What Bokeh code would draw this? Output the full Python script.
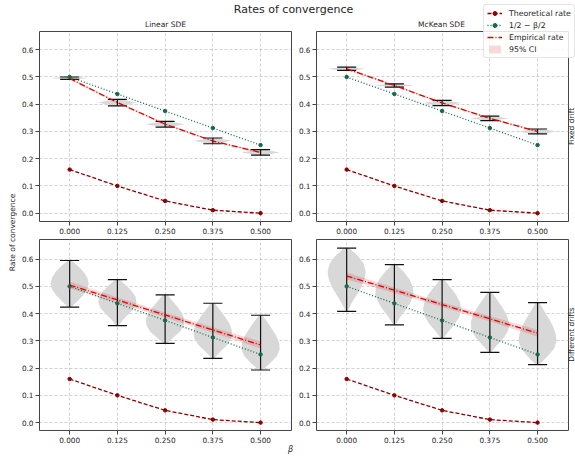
import numpy as np
from bokeh.plotting import figure
from bokeh.models import (Range1d, FixedTicker, PrintfTickFormatter, Label,
                          Legend, LegendItem, GridBox, Column)
from bokeh.embed import file_html
from bokeh.resources import INLINE

# ---------------- data ----------------
beta = [0.0, 0.125, 0.25, 0.375, 0.5]
rate_ticks = [0.0, 0.1, 0.2, 0.3, 0.4, 0.5, 0.6]
theoretical = [0.160, 0.100, 0.045, 0.011, 0.000]
half_rule = [0.5, 0.4375, 0.375, 0.3125, 0.25]

emp_linear_fixed = [0.495, 0.406, 0.327, 0.265, 0.223]
emp_mckean_fixed = [0.530, 0.469, 0.405, 0.348, 0.300]
emp_linear_diff = [0.505, 0.450, 0.395, 0.340, 0.285]
emp_mckean_diff = [0.538, 0.486, 0.433, 0.381, 0.328]

ci_fixed = [0.004, 0.003, 0.003, 0.003, 0.004]
ci_diff = [0.013, 0.010, 0.009, 0.010, 0.013]

lin_fixed_min = [0.491, 0.394, 0.316, 0.255, 0.213]
lin_fixed_max = [0.500, 0.418, 0.337, 0.276, 0.233]
mck_fixed_min = [0.524, 0.463, 0.395, 0.340, 0.291]
mck_fixed_max = [0.536, 0.475, 0.414, 0.356, 0.309]
lin_diff_min = [0.424, 0.356, 0.291, 0.236, 0.193]
lin_diff_max = [0.595, 0.525, 0.469, 0.438, 0.394]
mck_diff_min = [0.408, 0.359, 0.309, 0.258, 0.213]
mck_diff_max = [0.640, 0.580, 0.525, 0.478, 0.440]

# violin half-width profiles (fraction of max width), bottom -> top
prof_fixed = [[0.15, 0.6, 1.0, 0.6, 0.15]] * 5
prof_lin_diff = [
    [0.10, 0.40, 0.70, 0.92, 1.00, 0.93, 0.75, 0.45, 0.10],
    [0.08, 0.30, 0.60, 0.88, 1.00, 0.95, 0.75, 0.45, 0.10],
    [0.10, 0.45, 0.80, 0.98, 1.00, 0.88, 0.65, 0.38, 0.10],
    [0.06, 0.40, 0.78, 0.98, 1.00, 0.88, 0.65, 0.38, 0.10],
    [0.10, 0.50, 0.85, 1.00, 0.97, 0.82, 0.60, 0.35, 0.10],
]
prof_mck_diff = [
    [0.05, 0.25, 0.50, 0.75, 0.93, 1.00, 0.90, 0.60, 0.15],
    [0.06, 0.30, 0.60, 0.85, 1.00, 0.97, 0.80, 0.50, 0.10],
    [0.06, 0.35, 0.68, 0.92, 1.00, 0.92, 0.72, 0.42, 0.10],
    [0.06, 0.40, 0.75, 0.97, 1.00, 0.88, 0.65, 0.38, 0.10],
    [0.10, 0.50, 0.85, 1.00, 0.95, 0.80, 0.58, 0.33, 0.10],
]

# ---------------- style ----------------
FONT = "DejaVu Sans"
TXT = "#262626"
C_THEO = "#8b0000"
C_HALF = "#17694a"
C_EMP = "#e00000"
C_VIOL = "#d8d8d8"
VIOLIN_HALF = 0.05
CAP_HALF = 0.025


def panel(emp, ci, vmin, vmax, profiles, yr, left_col, top_row):
    p = figure(frame_width=252, frame_height=190 if top_row else 191,
               x_range=Range1d(-0.079, 0.581), y_range=Range1d(*yr),
               toolbar_location=None, output_backend="svg",
               min_border_left=39 if left_col else 20,
               min_border_right=4 if left_col else 8,
               min_border_top=31 if top_row else 2,
               min_border_bottom=16 if top_row else 28)
    p.outline_line_color = "#444444"
    p.outline_line_width = 1
    for ax, ticks, fmt in ((p.xaxis, beta, "%.3f"), (p.yaxis, rate_ticks, "%.1f")):
        ax.ticker = FixedTicker(ticks=ticks)
        ax.formatter = PrintfTickFormatter(format=fmt)
        ax.axis_line_color = None
        ax.major_tick_in = 0
        ax.major_tick_out = 4
        ax.major_tick_line_color = "#444444"
        ax.minor_tick_line_color = None
        ax.major_label_standoff = 2
        ax.major_label_text_font = FONT
        ax.major_label_text_font_size = "7.3px"
        ax.major_label_text_color = TXT
    for g in (p.xgrid, p.ygrid):
        g.grid_line_color = "#bdbdbd"
        g.grid_line_dash = "3 2"
        g.grid_line_width = 0.7

    # violins
    xs, ys = [], []
    for b, lo, hi, prof in zip(beta, vmin, vmax, profiles):
        prof = np.array(prof)
        lv = np.linspace(lo, hi, len(prof))
        xs.append(list(b + VIOLIN_HALF * prof) + list((b - VIOLIN_HALF * prof)[::-1]))
        ys.append(list(lv) + list(lv[::-1]))
    p.patches(xs, ys, fill_color=C_VIOL, line_color=None)

    # CI band
    p.varea(x=beta, y1=[e - c for e, c in zip(emp, ci)],
            y2=[e + c for e, c in zip(emp, ci)], fill_color=C_EMP, fill_alpha=0.15)

    # extrema bars
    bx0 = [b - CAP_HALF for b in beta]
    bx1 = [b + CAP_HALF for b in beta]
    p.segment(x0=beta, y0=vmin, x1=beta, y1=vmax, line_color="#111111", line_width=1.2)
    p.segment(x0=bx0, y0=vmin, x1=bx1, y1=vmin, line_color="#111111", line_width=1.2)
    p.segment(x0=bx0, y0=vmax, x1=bx1, y1=vmax, line_color="#111111", line_width=1.2)

    # lines
    p.line(beta, theoretical, line_color=C_THEO, line_dash="4 2", line_width=1.3)
    p.scatter(beta, theoretical, size=3.5, fill_color=C_THEO, line_color=C_THEO)
    p.line(beta, half_rule, line_color=C_HALF, line_dash="1 2", line_width=1.3)
    p.scatter(beta, half_rule, size=3.5, fill_color=C_HALF, line_color=C_HALF)
    p.line(beta, emp, line_color=C_EMP, line_dash="6 2 1 2", line_width=1.3)
    return p


yr_top = (-0.0305, 0.667)
yr_bot = (-0.029, 0.672)
tl = panel(emp_linear_fixed, ci_fixed, lin_fixed_min, lin_fixed_max, prof_fixed, yr_top, True, True)
tr = panel(emp_mckean_fixed, ci_fixed, mck_fixed_min, mck_fixed_max, prof_fixed, yr_top, False, True)
bl = panel(emp_linear_diff, ci_diff, lin_diff_min, lin_diff_max, prof_lin_diff, yr_bot, True, False)
br = panel(emp_mckean_diff, ci_diff, mck_diff_min, mck_diff_max, prof_mck_diff, yr_bot, False, False)

grid = GridBox(children=[(tl, 0, 0), (tr, 0, 1), (bl, 1, 0), (br, 1, 1)], spacing=0)

# ---------------- overlay for shared texts and legend ----------------
W, H = 575, 458
ov = figure(width=W, height=H, x_range=Range1d(0, W), y_range=Range1d(H, 0),
            toolbar_location=None, output_backend="svg", min_border=0,
            x_axis_type=None, y_axis_type=None)
ov.grid.visible = False
ov.outline_line_color = None
ov.background_fill_alpha = 0
ov.border_fill_alpha = 0
ov.styles = {"position": "absolute", "left": "0px", "top": "0px", "z-index": "10"}


def lab(x, y, text, size, angle=0.0, style="normal"):
    ov.add_layout(Label(x=x, y=y, text=text, text_font=FONT, text_font_size=size,
                        text_color=TXT, text_align="center", text_baseline="middle",
                        angle=angle, text_font_style=style))


lab(293, 9, "Rates of convergence", "11px")
lab(165, 24, "Linear SDE", "7.5px")
lab(441, 24, "McKean SDE", "7.5px")
lab(12, 232, "Rate of convergence", "7.5px", angle=np.pi / 2)
lab(290, 449, "β", "8px", style="italic")
lab(571, 126, "Fixed drift", "7.5px", angle=np.pi / 2)
lab(571, 334, "Different drifts", "7.5px", angle=np.pi / 2)

# legend proxies: one point each, placed outside the visible canvas
off = [-50.0, -40.0]
r1 = ov.line(off, off, line_color=C_THEO, line_dash="4 2", line_width=1.3)
r2 = ov.scatter(off, off, size=3.5, fill_color=C_THEO, line_color=C_THEO)
r3 = ov.line(off, off, line_color=C_HALF, line_dash="1 2", line_width=1.3)
r4 = ov.scatter(off, off, size=3.5, fill_color=C_HALF, line_color=C_HALF)
r5 = ov.line(off, off, line_color=C_EMP, line_dash="6 2 1 2", line_width=1.3)
r6 = ov.varea(x=off, y1=off, y2=off, fill_color=C_EMP, fill_alpha=0.15)
legend = Legend(items=[LegendItem(label="Theoretical rate", renderers=[r1, r2]),
                       LegendItem(label="1/2 − β/2", renderers=[r3, r4]),
                       LegendItem(label="Empirical rate", renderers=[r5]),
                       LegendItem(label="95% CI", renderers=[r6])],
                location=(483, 400), label_text_font=FONT, label_text_font_size="7.8px",
                label_text_color=TXT, glyph_width=15, glyph_height=10, label_height=10,
                label_standoff=7, spacing=2, padding=3, margin=0,
                border_line_color="#cccccc", background_fill_alpha=0.85, border_radius=3)
ov.add_layout(legend)

root = Column(children=[grid, ov], spacing=0)

open("out.html", "w").write(file_html(root, INLINE))
